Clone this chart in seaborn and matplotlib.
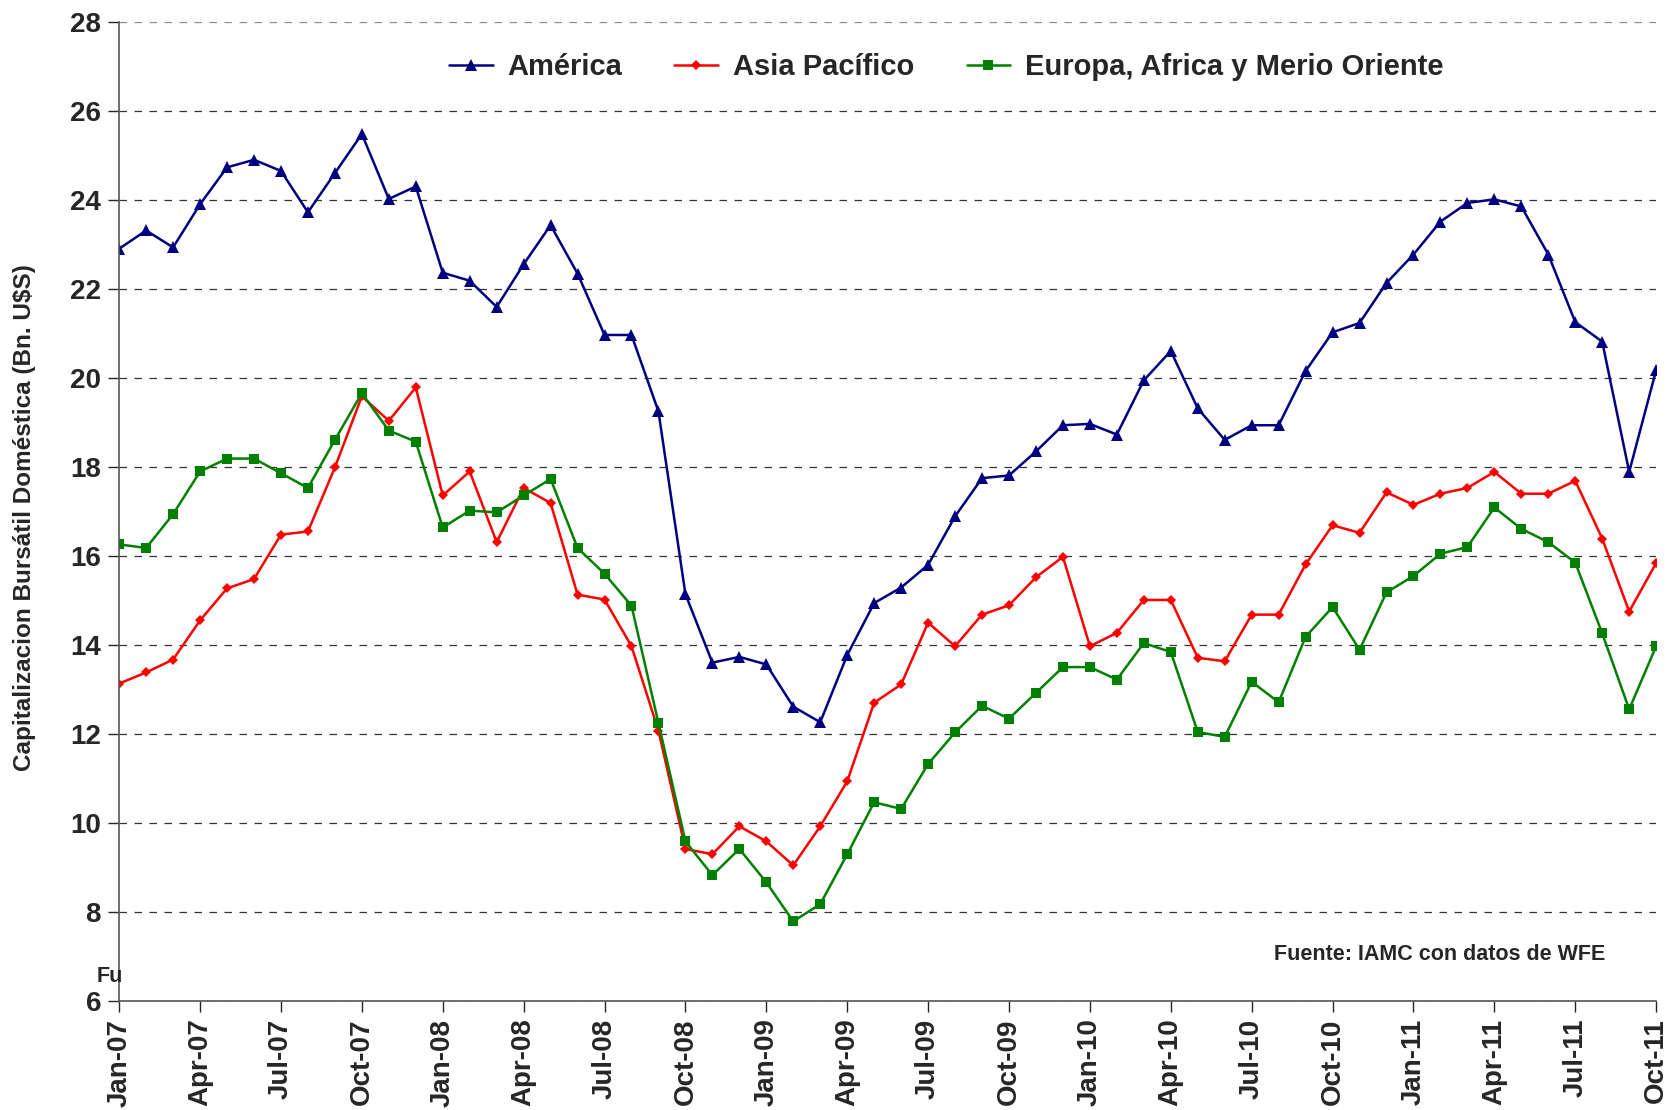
"""Capitalizacion bursatil domestica por region, 2007-2011"""

import matplotlib
matplotlib.use('Agg')
import matplotlib.pyplot as plt
import numpy as np
import pandas as pd
import seaborn as sns

# monthly values, Jan-07 .. Oct-11
america = [22.91, 23.32, 22.94, 23.91, 24.74, 24.91, 24.66, 23.73, 24.61, 25.49, 24.03, 24.31,
           22.37, 22.19, 21.60, 22.56, 23.44, 22.35, 20.97, 20.97, 19.25, 15.14, 13.60, 13.73,
           13.56, 12.61, 12.26, 13.77, 14.94, 15.29, 15.80, 16.89, 17.75, 17.81, 18.35, 18.94,
           18.97, 18.73, 19.95, 20.61, 19.32, 18.61, 18.94, 18.94, 20.16, 21.03, 21.24, 22.14,
           22.78, 23.52, 23.94, 24.02, 23.86, 22.78, 21.26, 20.82, 17.89, 20.18]
asia = [13.13, 13.38, 13.67, 14.55, 15.27, 15.48, 16.48, 16.55, 17.99, 19.59, 19.04, 19.79,
        17.36, 17.90, 16.31, 17.53, 17.19, 15.13, 15.02, 13.97, 12.07, 9.41, 9.29, 9.92,
        9.58, 9.04, 9.92, 10.93, 12.70, 13.11, 14.50, 13.97, 14.68, 14.89, 15.52, 15.98,
        13.97, 14.27, 15.01, 15.01, 13.71, 13.63, 14.68, 14.68, 15.81, 16.69, 16.52, 17.43,
        17.15, 17.40, 17.53, 17.89, 17.40, 17.40, 17.69, 16.39, 14.75, 15.84]
europa = [16.26, 16.18, 16.94, 17.90, 18.19, 18.19, 17.86, 17.53, 18.61, 19.66, 18.82, 18.57,
          16.64, 17.02, 16.98, 17.36, 17.73, 16.18, 15.60, 14.88, 12.24, 9.58, 8.82, 9.41,
          8.66, 7.78, 8.17, 9.29, 10.46, 10.31, 11.32, 12.03, 12.63, 12.34, 12.92, 13.50,
          13.50, 13.22, 14.04, 13.84, 12.04, 11.93, 13.17, 12.71, 14.18, 14.85, 13.89, 15.18,
          15.55, 16.05, 16.20, 17.09, 16.61, 16.31, 15.85, 14.26, 12.55, 13.97]

series_names = ['América', 'Asia Pacífico', 'Europa, Africa y Merio Oriente']
tick_labels = ['Jan-07', 'Apr-07', 'Jul-07', 'Oct-07', 'Jan-08', 'Apr-08', 'Jul-08', 'Oct-08',
               'Jan-09', 'Apr-09', 'Jul-09', 'Oct-09', 'Jan-10', 'Apr-10', 'Jul-10', 'Oct-10',
               'Jan-11', 'Apr-11', 'Jul-11', 'Oct-11']

months = np.arange(len(america))
df = pd.DataFrame({
    'mes': np.tile(months, 3),
    'valor': america + asia + europa,
    'region': np.repeat(series_names, len(months)),
})

sns.set_style('white')
plt.rcParams['font.family'] = ['Liberation Sans', 'DejaVu Sans']
plt.rcParams['font.weight'] = 'bold'

fig = plt.figure(figsize=(16.69, 11.10), dpi=100)
ax = fig.add_axes([0.0714, 0.0986, 0.9209, 0.8812])

palette = {'América': '#000080', 'Asia Pacífico': '#FF0000',
           'Europa, Africa y Merio Oriente': '#008000'}
markers = {'América': '^', 'Asia Pacífico': 'D', 'Europa, Africa y Merio Oriente': 's'}
sizes = {'América': 8, 'Asia Pacífico': 5.5, 'Europa, Africa y Merio Oriente': 7.5}

for name in series_names:
    sns.lineplot(data=df[df['region'] == name], x='mes', y='valor', ax=ax,
                 color=palette[name], marker=markers[name], markersize=sizes[name],
                 markeredgewidth=0, linewidth=1.8, label=name)

ax.set_xlim(0, len(months) - 1)
ax.set_ylim(6, 28)
ax.set_yticks(np.arange(6, 29, 2))
ax.set_xticks(np.arange(0, len(months), 3))
ax.set_xticklabels(tick_labels, rotation=90, fontsize=20, fontweight='bold')
ax.tick_params(axis='y', labelsize=20, length=8, width=1, direction='out', pad=5, left=True)
ax.tick_params(axis='x', length=8, width=1, direction='out', pad=5, bottom=True)

# dashed horizontal grid, the top one lighter
ax.yaxis.grid(True, color='#333333', linestyle=(0, (6, 6)), linewidth=0.9)
ax.get_ygridlines()[-1].set_color('#8a8a8a')
ax.set_axisbelow(True)

sns.despine(ax=ax, top=True, right=True)
for side in ['left', 'bottom']:
    ax.spines[side].set_color('#555555')
    ax.spines[side].set_linewidth(1.2)

ax.set_xlabel('')
ax.set_ylabel('Capitalizacion Bursátil Doméstica (Bn. U$S)', fontsize=17.5, fontweight='bold')
ax.yaxis.set_label_coords(-0.054, 0.494)

ax.legend(loc='center', bbox_to_anchor=(0.538, 0.954), ncol=3, frameon=False,
          prop={'size': 21, 'weight': 'bold'}, handlelength=1.5, columnspacing=1.8,
          handletextpad=0.5)

ax.text(0.967, 0.047, 'Fuente: IAMC con datos de WFE', transform=ax.transAxes,
        ha='right', va='center', fontsize=15.5, fontweight='bold')
fig.text(0.058, 0.12, 'Fu', ha='left', va='center', fontsize=15.5, fontweight='bold')

fig.savefig('out.png', dpi=100)
